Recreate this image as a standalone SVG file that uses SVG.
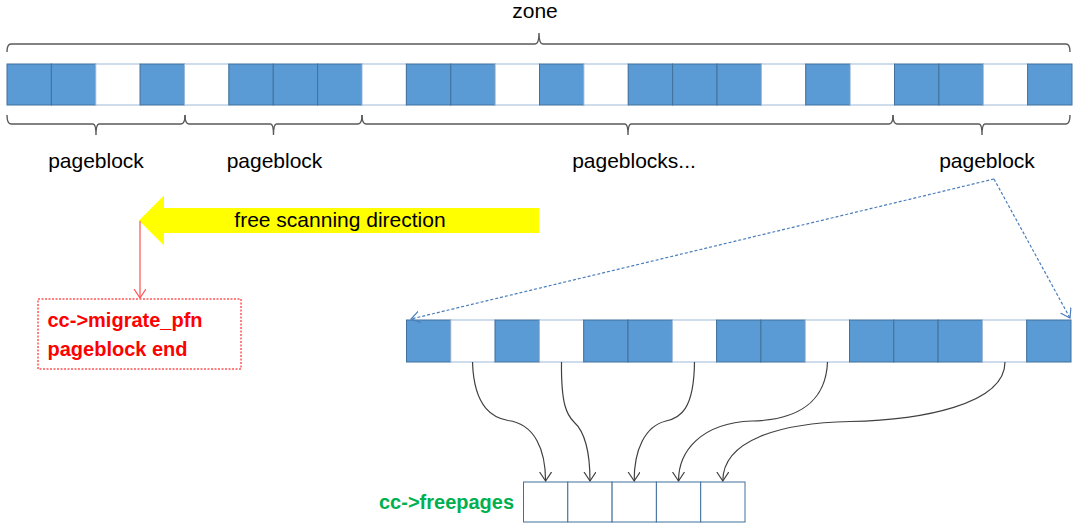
<svg xmlns="http://www.w3.org/2000/svg" width="1080" height="530" viewBox="0 0 1080 530">
<defs>
<style>
.b{fill:#5B9BD5;stroke:#41719C;stroke-width:1}
.w{fill:#FFFFFF;stroke:#9DB9D9;stroke-width:1}
.fp{fill:#FFFFFF;stroke:#41719C;stroke-width:1}
.brace{fill:none;stroke:#595959;stroke-width:1.4}
.lbl{font-family:"Liberation Sans",Arial,sans-serif;font-size:21px;fill:#000000}
.curve{fill:none;stroke:#404040;stroke-width:1.2;marker-end:url(#ak)}
.dash{fill:none;stroke:#4A7EBB;stroke-width:1.2;stroke-dasharray:3,2}
</style>
<marker id="ak" markerUnits="userSpaceOnUse" markerWidth="14" markerHeight="14" refX="9" refY="6" orient="auto" viewBox="0 0 14 14"><path d="M0,0 L9,6 L0,12" fill="none" stroke="#404040" stroke-width="1.2"/></marker>
<marker id="ab" markerUnits="userSpaceOnUse" markerWidth="14" markerHeight="14" refX="9" refY="6" orient="auto" viewBox="0 0 14 14"><path d="M0,0 L9,6 L0,12" fill="none" stroke="#4A7EBB" stroke-width="1.2"/></marker>
<marker id="ar" markerUnits="userSpaceOnUse" markerWidth="14" markerHeight="14" refX="9" refY="6" orient="auto" viewBox="0 0 14 14"><path d="M0,0 L9,6 L0,12" fill="none" stroke="#FF5050" stroke-width="1.2"/></marker>
</defs>
<rect width="1080" height="530" fill="#FFFFFF"/>

<g id="zone-label">
<text class="lbl" x="535" y="18" text-anchor="middle">zone</text>
<path class="brace" d="M7,52 Q7,44 11,44 L535,44 Q539,44 539,33 Q539,44 543,44 L1066,44 Q1070,44 1070,52"/>
</g>

<g id="zone-bar">
<rect class="b" x="7" y="64" width="44.375" height="41"/>
<rect class="b" x="51.375" y="64" width="44.375" height="41"/>
<rect class="w" x="95.75" y="64" width="44.375" height="41"/>
<rect class="b" x="140.125" y="64" width="44.375" height="41"/>
<rect class="w" x="184.5" y="64" width="44.375" height="41"/>
<rect class="b" x="228.875" y="64" width="44.375" height="41"/>
<rect class="b" x="273.25" y="64" width="44.375" height="41"/>
<rect class="b" x="317.625" y="64" width="44.375" height="41"/>
<rect class="w" x="362" y="64" width="44.375" height="41"/>
<rect class="b" x="406.375" y="64" width="44.375" height="41"/>
<rect class="b" x="450.75" y="64" width="44.375" height="41"/>
<rect class="w" x="495.125" y="64" width="44.375" height="41"/>
<rect class="b" x="539.5" y="64" width="44.375" height="41"/>
<rect class="w" x="583.875" y="64" width="44.375" height="41"/>
<rect class="b" x="628.25" y="64" width="44.375" height="41"/>
<rect class="b" x="672.625" y="64" width="44.375" height="41"/>
<rect class="b" x="717" y="64" width="44.375" height="41"/>
<rect class="w" x="761.375" y="64" width="44.375" height="41"/>
<rect class="b" x="805.75" y="64" width="44.375" height="41"/>
<rect class="w" x="850.125" y="64" width="44.375" height="41"/>
<rect class="b" x="894.5" y="64" width="44.375" height="41"/>
<rect class="b" x="938.875" y="64" width="44.375" height="41"/>
<rect class="w" x="983.25" y="64" width="44.375" height="41"/>
<rect class="b" x="1027.625" y="64" width="44.375" height="41"/>
</g>

<g id="pageblock-1">
<path class="brace" d="M7,115 Q7,124 11,124 L93,124 Q96,124 96,135 Q96,124 99,124 L181,124 Q185,124 185,115"/>
<text class="lbl" x="96" y="168" text-anchor="middle">pageblock</text>
</g>
<g id="pageblock-2">
<path class="brace" d="M185,115 Q185,124 189,124 L270.5,124 Q273.5,124 273.5,135 Q273.5,124 276.5,124 L358,124 Q362,124 362,115"/>
<text class="lbl" x="274.5" y="168" text-anchor="middle">pageblock</text>
</g>
<g id="pageblocks-more">
<path class="brace" d="M362,115 Q362,124 366,124 L625,124 Q628,124 628,135 Q628,124 631,124 L889,124 Q893,124 893,115"/>
<text class="lbl" x="634" y="168" text-anchor="middle">pageblocks...</text>
</g>
<g id="pageblock-4">
<path class="brace" d="M893,115 Q893,124 897,124 L979,124 Q982,124 982,135 Q982,124 985,124 L1066,124 Q1070,124 1070,115"/>
<text class="lbl" x="987" y="168" text-anchor="middle">pageblock</text>
</g>

<g id="scan-arrow">
<polygon points="139,220.5 164,195.5 164,208 539,208 539,233 164,233 164,245.5" fill="#FFFF00"/>
<text class="lbl" x="340" y="227" text-anchor="middle" font-size="21.5">free scanning direction</text>
</g>

<g id="migrate-pfn">
<rect x="38" y="299" width="203" height="70" fill="#FFFFFF" stroke="#FF0000" stroke-width="1" stroke-dasharray="2,1.5"/>
<text x="47.5" y="327" font-family="'Liberation Sans',Arial,sans-serif" font-size="20" font-weight="bold" fill="#FF0000">cc-&gt;migrate_pfn</text>
<text x="47.5" y="355.5" font-family="'Liberation Sans',Arial,sans-serif" font-size="20" font-weight="bold" fill="#FF0000">pageblock end</text>
</g>

<g id="pageblock-detail">
<rect class="b" x="406.5" y="320" width="44.3" height="42"/>
<rect class="w" x="450.8" y="320" width="44.3" height="42"/>
<rect class="b" x="495.1" y="320" width="44.3" height="42"/>
<rect class="w" x="539.4" y="320" width="44.3" height="42"/>
<rect class="b" x="583.7" y="320" width="44.3" height="42"/>
<rect class="b" x="628" y="320" width="44.3" height="42"/>
<rect class="w" x="672.3" y="320" width="44.3" height="42"/>
<rect class="b" x="716.6" y="320" width="44.3" height="42"/>
<rect class="b" x="760.9" y="320" width="44.3" height="42"/>
<rect class="w" x="805.2" y="320" width="44.3" height="42"/>
<rect class="b" x="849.5" y="320" width="44.3" height="42"/>
<rect class="b" x="893.8" y="320" width="44.3" height="42"/>
<rect class="b" x="938.1" y="320" width="44.3" height="42"/>
<rect class="w" x="982.4" y="320" width="44.3" height="42"/>
<rect class="b" x="1026.7" y="320" width="44.3" height="42"/>
</g>

<g id="freepages">
<text x="379" y="509" font-family="'Liberation Sans',Arial,sans-serif" font-size="20" font-weight="bold" fill="#00B050">cc-&gt;freepages</text>
<rect class="fp" x="523.5" y="482" width="44.3" height="40"/>
<rect class="fp" x="567.8" y="482" width="44.3" height="40"/>
<rect class="fp" x="612.1" y="482" width="44.3" height="40"/>
<rect class="fp" x="656.4" y="482" width="44.3" height="40"/>
<rect class="fp" x="700.7" y="482" width="44.3" height="40"/>
</g>

<g id="connectors">
<path class="dash" d="M994,179 L411,319" marker-end="url(#ab)"/>
<path class="dash" d="M994,179 L1070,318" marker-end="url(#ab)"/>
<path d="M140,221 L140,298" fill="none" stroke="#FF5050" stroke-width="1.2" marker-end="url(#ar)"/>
<path class="curve" d="M472.5,362 C474,410 495,418 508,420.5 C535,424 545.5,450 545.6,481"/>
<path class="curve" d="M561.5,362 C561,405 567,415 574,422 C585,432 590,450 590,481"/>
<path class="curve" d="M694.5,362 C694,410 680,418 666,421 C645,426 634,450 634.2,481"/>
<path class="curve" d="M827.5,362 C826,400 800,420 752,421 C700,423 678.5,452 678.5,481"/>
<path class="curve" d="M1005,362 C1005,405 920,420 850,421.5 C780,423 722.8,440 722.8,481"/>
</g>
</svg>
